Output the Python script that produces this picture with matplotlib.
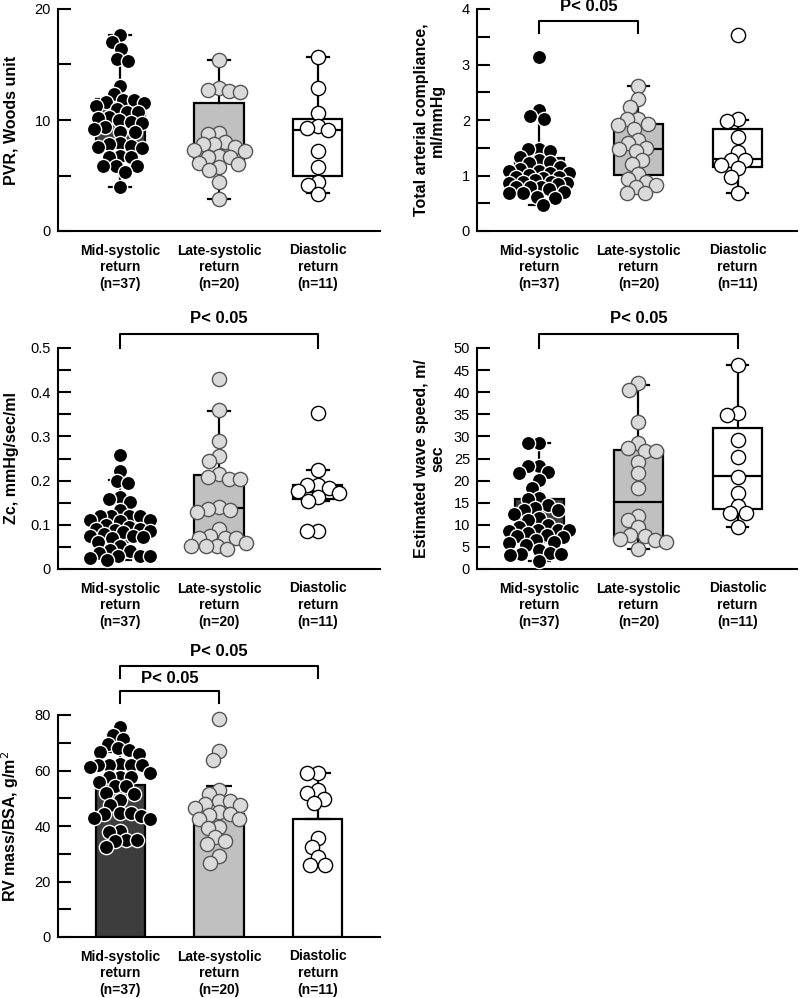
import numpy as np
import matplotlib
matplotlib.use("Agg")
import matplotlib.pyplot as plt

plt.rcParams['font.family'] = ['Liberation Sans', 'DejaVu Sans']

groups = ["Mid-systolic\nreturn\n(n=37)", "Late-systolic\nreturn\n(n=20)",
          "Diastolic\nreturn\n(n=11)"]

# PVR, Woods unit
pvr_mid = [17.7, 17.0, 16.4, 15.5, 15.3, 13.1, 12.3, 11.8, 11.8, 11.6, 11.5, 11.3,
           11.0, 10.7, 10.7, 10.3, 10.2, 10.0, 9.8, 9.7, 9.4, 9.2, 8.9, 8.9, 7.9,
           7.8, 7.7, 7.6, 7.5, 6.8, 6.7, 6.7, 5.9, 5.9, 5.9, 5.3, 4.0]
pvr_late = [15.4, 12.9, 12.7, 12.6, 12.5, 8.8, 8.7, 8.0, 7.8, 7.8, 7.6, 7.3, 7.2,
            6.8, 6.7, 6.7, 6.1, 6.0, 5.8, 5.5, 4.4, 2.9]
pvr_dia = [15.7, 12.9, 10.6, 9.5, 9.3, 9.1, 7.2, 5.8, 4.4, 4.1, 3.3]
# (whisker low, q1, median, q3, whisker high)
pvr_box = [(4.0, 7.6, 10.3, 11.9, 17.7), (2.9, 6.2, 7.4, 11.5, 15.4),
           (3.4, 5.0, 9.1, 10.1, 15.7)]

# total arterial compliance
ac_mid = [3.13, 2.18, 2.07, 2.01, 1.48, 1.48, 1.44, 1.34, 1.28, 1.25, 1.22, 1.16,
          1.12, 1.09, 1.09, 1.05, 1.04, 1.01, 0.98, 0.98, 0.95, 0.92, 0.89, 0.89,
          0.87, 0.87, 0.85, 0.80, 0.80, 0.80, 0.75, 0.71, 0.68, 0.68, 0.62, 0.59, 0.46]
ac_late = [2.61, 2.37, 2.24, 2.01, 2.01, 1.92, 1.91, 1.83, 1.64, 1.58, 1.50, 1.48,
           1.44, 1.28, 1.20, 1.02, 0.93, 0.89, 0.83, 0.80, 0.69, 0.69]
ac_dia = [3.54, 2.01, 1.98, 1.70, 1.43, 1.28, 1.28, 1.19, 1.13, 0.98, 0.69]
ac_box = [(0.46, 0.78, 0.95, 1.32, 2.07), (0.68, 1.01, 1.48, 1.92, 2.61),
          (0.69, 1.15, 1.30, 1.83, 2.0)]

# Zc
zc_mid = [0.258, 0.222, 0.199, 0.195, 0.162, 0.158, 0.151, 0.134, 0.120, 0.120,
          0.119, 0.119, 0.111, 0.111, 0.108, 0.100, 0.095, 0.090, 0.090, 0.089,
          0.085, 0.083, 0.080, 0.075, 0.074, 0.072, 0.070, 0.062, 0.051, 0.042,
          0.040, 0.036, 0.030, 0.029, 0.029, 0.025, 0.021]
zc_late = [0.429, 0.359, 0.289, 0.256, 0.244, 0.214, 0.209, 0.203, 0.203, 0.140,
           0.135, 0.134, 0.130, 0.090, 0.075, 0.070, 0.070, 0.070, 0.059, 0.053,
           0.053, 0.051, 0.045]
zc_dia = [0.352, 0.224, 0.190, 0.190, 0.184, 0.177, 0.173, 0.164, 0.153, 0.086, 0.086]
zc_box = [(0.021, 0.062, 0.096, 0.121, 0.201), (0.045, 0.070, 0.138, 0.213, 0.358),
          (0.153, 0.159, 0.175, 0.190, 0.224)]

# estimated wave speed
ws_mid = [28.6, 28.6, 23.4, 23.2, 22.0, 21.8, 20.2, 18.4, 16.0, 15.8, 14.5, 13.8,
          13.4, 13.4, 12.5, 11.5, 11.0, 10.0, 9.5, 8.9, 8.9, 8.9, 8.6, 8.1, 7.7,
          7.4, 7.2, 6.6, 6.0, 5.9, 5.5, 4.2, 3.6, 3.4, 3.4, 3.2, 1.7]
ws_late = [42.0, 40.6, 33.3, 28.6, 27.4, 26.7, 26.7, 24.3, 21.8, 18.3, 12.1, 11.0,
           9.4, 7.7, 7.5, 6.8, 6.5, 6.2, 4.5]
ws_dia = [46.1, 35.3, 34.8, 29.2, 25.4, 20.9, 17.1, 14.3, 12.6, 12.6, 9.4]
ws_box = [(1.7, 6.2, 8.9, 15.8, 28.6), (4.6, 7.2, 15.1, 26.9, 41.6),
          (9.4, 13.5, 21.0, 32.0, 46.1)]

# RV mass / BSA
rv_mid = [75.8, 72.8, 71.4, 69.4, 68.0, 67.4, 66.8, 65.8, 62.2, 62.0, 62.0, 62.0,
          62.0, 61.4, 59.2, 57.8, 57.8, 57.8, 56.0, 54.4, 54.4, 52.0, 51.7, 49.3,
          47.5, 44.8, 44.8, 44.2, 43.6, 43.0, 42.5, 38.1, 37.9, 34.9, 34.9, 34.7, 32.5]
rv_late = [78.5, 67.1, 63.8, 52.9, 51.4, 49.0, 49.0, 47.9, 47.5, 46.6, 45.1, 44.5,
           43.9, 42.7, 42.5, 39.7, 39.1, 36.1, 34.7, 33.5, 29.1, 26.7]
rv_dia = [59.2, 59.2, 52.9, 52.0, 49.6, 48.4, 35.5, 32.3, 28.9, 26.1, 25.9]
rv_mean = [54.8, 44.5, 42.7]
rv_sd = [12.0, 10.0, 16.5]

box_colors = ['#3d3d3d', '#c0c0c0', 'white']
pt_face = ['black', '#dadada', 'white']
pt_edge = ['white', '#555555', 'black']

W, H = 800, 998
fig = plt.figure(figsize=(W / 100, H / 100), dpi=100)


def rect(l, t, r, b):
    return [l / W, 1 - b / H, (r - l) / W, (b - t) / H]


def swarm(ax, xc, vals, d=10.5, maxoff=30):
    # simple beeswarm in pixel space, overlap allowed when crowded
    bb = ax.get_window_extent()
    x0, x1 = ax.get_xlim()
    y0, y1 = ax.get_ylim()
    sx = bb.width / (x1 - x0)
    sy = bb.height / (y1 - y0)
    cands = sorted(np.arange(-maxoff, maxoff + 0.5, 1.0), key=abs)
    placed = []
    xs = []
    for v in vals:
        py = v * sy
        best, bestd = 0.0, -1.0
        for dx in cands:
            md = min([np.hypot(dx - qx, py - qy) for qx, qy in placed] + [1e9])
            if md >= d:
                best = dx
                break
            if md > bestd:
                best, bestd = dx, md
        placed.append((best, py))
        xs.append(xc + best / sx)
    return xs


def setup(ax, ylim, step, label_every, fmt, ylabel, lab_x, right):
    ax.set_xlim(-0.63, right)
    ax.set_ylim(*ylim)
    ticks = np.arange(ylim[0], ylim[1] + step / 2, step)
    labs = [fmt(t) if i % label_every == 0 else '' for i, t in enumerate(ticks)]
    ax.set_yticks(ticks)
    ax.set_yticklabels(labs)
    ax.tick_params(axis='y', direction='in', length=9, width=1.5, labelsize=10.5, pad=5)
    ax.tick_params(axis='x', length=0, pad=9)
    ax.set_xticks([0, 1, 2])
    ax.set_xticklabels(groups, fontsize=10, fontweight='bold', linespacing=1.25)
    for s in ['top', 'right']:
        ax.spines[s].set_visible(False)
    for s in ['left', 'bottom']:
        ax.spines[s].set_linewidth(1.5)
    ax.set_ylabel(ylabel, fontsize=11.5, fontweight='bold', linespacing=1.05)
    ax.yaxis.set_label_coords(lab_x, 0.5)


def box_panel(ax, data, box):
    stats = []
    for b in box:
        stats.append(dict(whislo=b[0], q1=b[1], med=b[2], q3=b[3], whishi=b[4], fliers=[]))
    bp = ax.bxp(stats, positions=[0, 1, 2], widths=0.5, patch_artist=True,
                showfliers=False, capwidths=0.22,
                boxprops=dict(linewidth=1.6, edgecolor='black'),
                medianprops=dict(color='black', linewidth=1.6),
                whiskerprops=dict(color='black', linewidth=1.6),
                capprops=dict(color='black', linewidth=1.6), manage_ticks=False)
    for patch, c in zip(bp['boxes'], box_colors):
        patch.set_facecolor(c)
    for i, vals in enumerate(data):
        xs = swarm(ax, i, vals)
        ax.scatter(xs, vals, s=105, facecolor=pt_face[i], edgecolor=pt_edge[i],
                   linewidth=1.0, zorder=3, clip_on=False)


def bracket(ax, x0, x1, ytop, ybot, ytxt):
    ax.plot([x0, x0, x1, x1], [ybot, ytop, ytop, ybot], color='black', lw=1.5,
            clip_on=False)
    ax.text((x0 + x1) / 2, ytxt, "P< 0.05", ha='center', va='center', fontsize=12,
            fontweight='bold', clip_on=False)


# panel 1
ax1 = fig.add_axes(rect(58, 9, 380, 231))
setup(ax1, (0, 20), 5, 2, lambda t: f"{t:.0f}", "PVR, Woods unit", -0.122, 2.63)
box_panel(ax1, [pvr_mid, pvr_late, pvr_dia], pvr_box)

# panel 2
ax2 = fig.add_axes(rect(477, 9, 797, 231))
setup(ax2, (0, 4), 0.5, 2, lambda t: f"{t:.0f}", "Total arterial compliance,\nml/mmHg",
      -0.10, 2.6)
box_panel(ax2, [ac_mid, ac_late, ac_dia], ac_box)
bracket(ax2, 0, 1, 3.78, 3.57, 4.04)

# panel 3
ax3 = fig.add_axes(rect(58, 348, 380, 569))
setup(ax3, (0, 0.5), 0.05, 2, lambda t: "0" if t == 0 else f"{t:.1f}",
      "Zc, mmHg/sec/ml", -0.122, 2.63)
box_panel(ax3, [zc_mid, zc_late, zc_dia], zc_box)
bracket(ax3, 0, 2, 0.532, 0.5, 0.566)

# panel 4
ax4 = fig.add_axes(rect(477, 348, 797, 569))
setup(ax4, (0, 50), 5, 1, lambda t: f"{t:.0f}", "Estimated wave speed, m/\nsec",
      -0.10, 2.6)
box_panel(ax4, [ws_mid, ws_late, ws_dia], ws_box)
bracket(ax4, 0, 2, 53.2, 50, 56.6)

# panel 5
ax5 = fig.add_axes(rect(58, 715, 380, 937))
setup(ax5, (0, 80), 10, 2, lambda t: f"{t:.0f}", "RV mass/BSA, g/m$^2$", -0.115, 2.63)
ax5.bar([0, 1, 2], rv_mean, width=0.5, color=box_colors, edgecolor='black',
        linewidth=1.6, zorder=1)
ax5.errorbar([0, 1, 2], rv_mean, yerr=[np.zeros(3), rv_sd], fmt='none', ecolor='black',
             elinewidth=1.6, capsize=9.5, capthick=1.6, zorder=2)
for i, vals in enumerate([rv_mid, rv_late, rv_dia]):
    xs = swarm(ax5, i, vals)
    ax5.scatter(xs, vals, s=105, facecolor=pt_face[i], edgecolor=pt_edge[i],
                linewidth=1.0, zorder=3, clip_on=False)
bracket(ax5, 0, 2, 97.7, 93.3, 103)
bracket(ax5, 0, 1, 88.6, 84.3, 93.3)

fig.savefig("out.png", dpi=100)
